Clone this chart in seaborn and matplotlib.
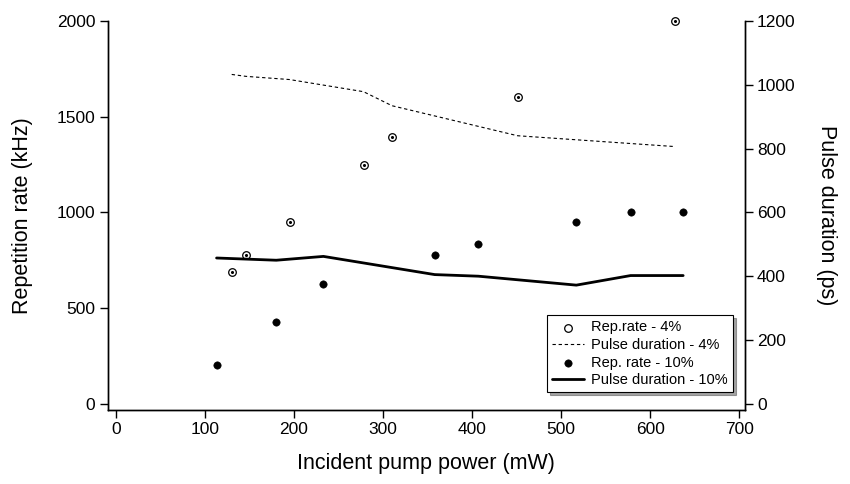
import numpy as np
import pandas as pd
import seaborn as sns
import matplotlib.pyplot as plt

# rep rate, 4% output coupler
power_4 = [130, 146, 195, 278, 310, 451, 628]
rate_4 = [690, 780, 950, 1250, 1395, 1600, 2000]
pulse_4 = [1032, 1026, 1016, 978, 934, 840, 806]

# rep rate, 10% output coupler
power_10 = [113, 180, 233, 358, 407, 517, 578, 637]
rate_10 = [205, 430, 625, 780, 835, 950, 1000, 1000]
pulse_10 = [457, 450, 462, 405, 400, 372, 402, 402]

sns.set_style("white")
plt.rcParams['font.family'] = ['Liberation Sans', 'DejaVu Sans']
plt.rcParams['axes.labelcolor'] = 'black'
plt.rcParams['text.color'] = 'black'

fig = plt.figure(figsize=(8.5, 4.84), dpi=100)
ax = fig.add_axes([0.127, 0.153, 0.749, 0.804])
ax2 = ax.twinx()

sns.scatterplot(x=power_4, y=rate_4, ax=ax, marker='o', s=30, facecolor='white',
                edgecolor='black', linewidth=0.9, clip_on=False, label='Rep.rate - 4%', zorder=3)
# little dot in the middle of the open circles
ax.scatter(power_4, rate_4, s=1.5, color='black', clip_on=False, zorder=4)
sns.lineplot(x=power_4, y=pulse_4, ax=ax2, color='black', linestyle=(0, (3, 2.5)),
             linewidth=0.8, label='Pulse duration - 4%')
sns.scatterplot(x=power_10, y=rate_10, ax=ax, marker='o', s=28, color='black',
                edgecolor='black', clip_on=False, label='Rep. rate - 10%', zorder=3)
sns.lineplot(x=power_10, y=pulse_10, ax=ax2, color='black', linewidth=2.0,
             label='Pulse duration - 10%')

ax.set_xlim(-9, 706)
ax.set_ylim(-31, 2000)
ax2.set_ylim(-19, 1200)
ax.set_xticks(np.arange(0, 701, 100))
ax.set_yticks(np.arange(0, 2001, 500))
ax2.set_yticks(np.arange(0, 1201, 200))

for a in (ax, ax2):
    a.spines['top'].set_visible(False)
    for s in ('left', 'right', 'bottom'):
        a.spines[s].set_color('black')
        a.spines[s].set_linewidth(1.0)
    a.tick_params(axis='both', direction='out', length=6, width=1, color='black',
                  labelsize=12.5, labelcolor='black', pad=3)
ax.tick_params(left=True, bottom=True)
ax2.tick_params(right=True)

ax.set_xlabel('Incident pump power (mW)', fontsize=15.5, labelpad=11)
ax.set_ylabel('Repetition rate (kHz)', fontsize=15.5, labelpad=17)
ax2.set_ylabel('Pulse duration (ps)', fontsize=15.5, rotation=-90, labelpad=30)

h1, l1 = ax.get_legend_handles_labels()
h2, l2 = ax2.get_legend_handles_labels()
for a in (ax, ax2):
    if a.get_legend():
        a.get_legend().remove()
handles = [h1[0], h2[0], h1[1], h2[1]]
labels = [l1[0], l2[0], l1[1], l2[1]]
leg = ax2.legend(handles, labels, loc='lower right', bbox_to_anchor=(0.982, 0.045),
                 fontsize=10.5, frameon=True, fancybox=False, shadow=True,
                 edgecolor='black', handlelength=2.2, handletextpad=0.5,
                 borderpad=0.35, labelspacing=0.25, borderaxespad=0)
leg.get_frame().set_linewidth(0.8)

fig.savefig('out.png', dpi=100)
